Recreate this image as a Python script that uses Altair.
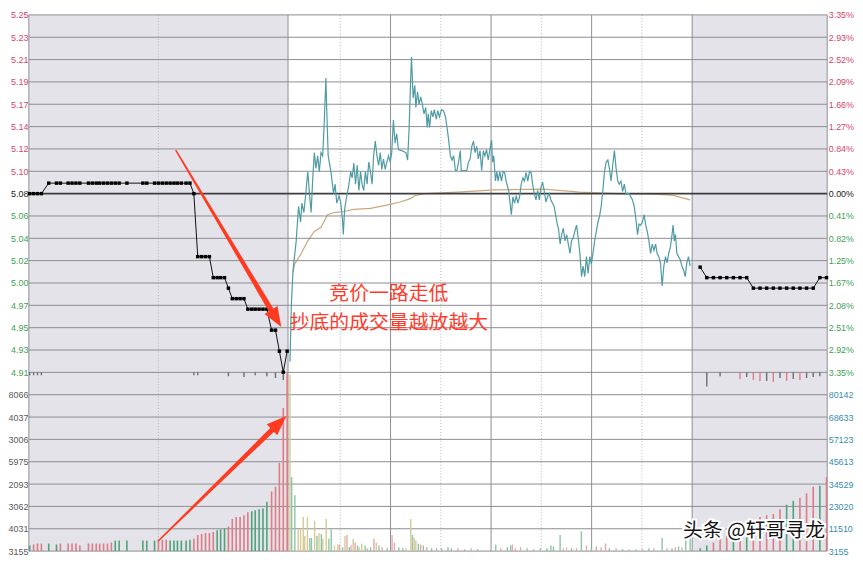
import json
import altair as alt
import pandas as pd

NUM_FONT = "Liberation Sans Narrow, Liberation Sans, Arial, sans-serif"
CJK_FONT = "Noto Sans CJK SC"

PREV_CLOSE = 5.08
MAX_PCT = 3.35
VOL_STEP = 11510

PRICE_UP_LABELS = ["5.10", "5.12", "5.14", "5.17", "5.19", "5.21", "5.23", "5.25"]
PRICE_DN_LABELS = ["5.06", "5.04", "5.02", "5.00", "4.97", "4.95", "4.93", "4.91"]
PCT_UP_LABELS = ["0.43%", "0.84%", "1.27%", "1.66%", "2.09%", "2.52%", "2.93%", "3.35%"]
PCT_DN_LABELS = ["0.41%", "0.82%", "1.25%", "1.67%", "2.08%", "2.51%", "2.92%", "3.35%"]
VOL_LEFT_LABELS = ["3155", "4031", "3062", "2093", "5975", "3006", "4037", "8066"]
VOL_RIGHT_LABELS = ["3155", "11510", "23020", "34529", "45613", "57123", "68633", "80142"]

# call auction 9:15-9:25 (seconds after 9:15)
AUCTION_SEC = [2, 11, 20, 29,
               46, 64, 73, 91, 100, 109, 118, 138, 147, 156, 164, 173, 182, 191, 200,
               209, 227, 264, 273, 291, 300, 309, 318, 327, 336, 344, 353, 364, 373,
               382, 391, 400, 409, 418, 427, 436, 444, 453, 462, 471, 480, 489, 498,
               507, 516, 524, 533, 542, 551, 562, 571, 580, 589, 598]
AUCTION_PRICE = [5.08, 5.08, 5.08, 5.08,
                 5.09, 5.09, 5.09, 5.09, 5.09, 5.09, 5.09, 5.09, 5.09, 5.09, 5.09, 5.09, 5.09, 5.09, 5.09,
                 5.09, 5.09, 5.09, 5.09, 5.09, 5.09, 5.09, 5.09, 5.09, 5.09, 5.09, 5.09, 5.09, 5.09,
                 5.08, 5.02, 5.02, 5.02, 5.02, 5.00, 5.00, 5.00, 5.00, 4.99, 4.98, 4.98, 4.98, 4.98,
                 4.97, 4.97, 4.97, 4.97, 4.97, 4.97, 4.95, 4.95, 4.93, 4.91, 4.93]
AUCTION_VOL = [2900, 3400, 3900, 3900,
               3900, 3400, 3900, 3900, 3900, 3900, 2900, 3900, 3900, 3900, 3900, 3900, 3900, 4400, 5400,
               5400, 5400, 5400, 5400, 5400, 5900, 5900, 5900, 5400, 5400, 5400, 5400, 5400, 5900,
               6300, 8300, 8800, 9300, 9300, 9800, 10700, 11200, 11700, 12700, 16600, 17600, 17600, 18500,
               20000, 20500, 21000, 21500, 22000, 25400, 30700, 33200, 45400, 73700, 91700]
AUCTION_DIR = ["d", "u", "u", "u",
               "d", "d", "u", "u", "u", "u", "u", "u", "u", "u", "u", "u", "u", "u", "d",
               "d", "d", "d", "d", "d", "u", "u", "u", "d", "d", "d", "d", "d", "d",
               "u", "u", "u", "u", "u", "u", "d", "d", "d", "u", "u", "u", "u", "u",
               "u", "d", "d", "d", "d", "d", "u", "u", "u", "u", "u"]
AUCTION_HANG_SEC = [2, 11, 20, 29, 382, 391, 462, 498, 524, 551, 571, 589]
AUCTION_HANG = [1500, 1500, 1500, 1500, 1500, 1500, 2000, 2400, 1500, 2000, 2900, 3900]

# continuous trading (minutes after 9:30)
TRADE_MIN = [0, 0.8, 1.8, 3.7, 5.1, 6.3, 7.1, 8.3, 9.6, 10.6,
             11.6, 12.6, 13.6, 14.5, 15.5, 16.5, 17.5, 18.5, 19.5, 20.4,
             21.4, 22.0, 22.8, 24.4, 26.0, 26.9, 27.9, 29.3, 30.3, 31.3,
             31.8, 32.6, 33.8, 35.2, 36.2, 37.1, 38.1, 39.1, 40.1, 41.1,
             42.1, 43.0, 44.0, 45.0, 46.0, 47.0, 48.0, 49.0, 49.9, 50.9,
             51.9, 52.9, 53.9, 54.8, 55.8, 56.8, 57.8, 58.8, 59.8, 60.7,
             61.7, 62.7, 63.7, 64.7, 66.6, 69.2, 70.2, 71.1, 71.9, 72.5,
             73.5, 74.5, 75.1, 76.1, 77.0, 78.0, 79.0, 80.0, 81.0, 81.9,
             82.5, 83.3, 84.3, 85.3, 86.1, 87.3, 88.2, 89.2, 90.4, 91.6,
             92.8, 93.7, 94.7, 95.7, 96.7, 97.7, 98.7, 99.6, 100.6, 101.6,
             102.2, 105.5, 106.5, 107.5, 108.5, 109.5, 110.4, 111.4, 112.4, 113.4,
             114.4, 115.4, 116.3, 117.3, 118.3, 119.3, 120.3, 120.9, 121.6, 122.6,
             123.4, 124.2, 125.2, 126.2, 127.2, 128.1, 129.1, 130.5, 131.1, 132.1,
             133.0, 134.0, 135.0, 136.0, 137.0, 138.0, 139.0, 139.9, 140.9, 141.9,
             142.9, 143.9, 144.8, 145.8, 146.8, 147.8, 148.8, 149.8, 150.7, 151.7,
             152.7, 153.7, 154.7, 155.7, 157.6, 158.6, 159.6,
             160.2, 161.2, 162.1, 163.1, 164.1, 165.1, 166.1, 167.1, 168.0, 169.0,
             170.0, 171.0, 172.0, 173.0, 174.0, 174.9, 175.9, 176.9, 177.9, 178.9,
             179.8, 180.8, 181.8, 182.8, 183.8, 184.8, 185.7, 186.7, 187.7, 188.7,
             189.7, 190.6, 191.6, 192.6, 193.6, 194.6, 195.6, 196.5, 197.5, 198.5,
             199.5, 200.5, 202.4, 203.4, 204.4, 205.4, 206.4, 207.4, 208.3, 209.3,
             210.3, 211.3, 212.3, 213.2, 214.2, 215.2, 216.2, 217.2, 218.2, 219.1,
             220.1, 221.1, 222.1, 223.1, 224.1, 225.0, 226.0, 227.0, 228.0, 228.6,
             229.4, 230.0, 230.9, 231.9, 232.9, 233.9, 234.9, 235.9, 236.8, 237.8,
             238.8]
TRADE_PRICE = [4.920, 4.974, 5.007, 5.035, 5.068, 5.053, 5.071, 5.062, 5.083, 5.101,
               5.080, 5.062, 5.095, 5.119, 5.104, 5.116, 5.101, 5.119, 5.116, 5.146,
               5.190, 5.156, 5.116, 5.101, 5.080, 5.089, 5.071, 5.078, 5.071, 5.056,
               5.041, 5.065, 5.077, 5.089, 5.101, 5.095, 5.109, 5.089, 5.107, 5.083,
               5.101, 5.089, 5.083, 5.101, 5.089, 5.110, 5.101, 5.089, 5.116, 5.130,
               5.116, 5.107, 5.119, 5.103, 5.113, 5.103, 5.110, 5.116, 5.110, 5.119,
               5.150, 5.128, 5.137, 5.122, 5.121, 5.119, 5.112, 5.143, 5.183, 5.210,
               5.171, 5.183, 5.162, 5.177, 5.165, 5.172, 5.165, 5.156, 5.162, 5.143,
               5.156, 5.143, 5.159, 5.153, 5.160, 5.151, 5.159, 5.153, 5.160, 5.159,
               5.153, 5.143, 5.131, 5.116, 5.112, 5.116, 5.102, 5.102, 5.110, 5.121,
               5.102, 5.102, 5.110, 5.113, 5.125, 5.130, 5.119, 5.125, 5.113, 5.121,
               5.102, 5.121, 5.116, 5.122, 5.112, 5.122, 5.131, 5.110, 5.116, 5.092,
               5.101, 5.092, 5.101, 5.092, 5.101, 5.100, 5.091, 5.083, 5.074, 5.060,
               5.077, 5.071, 5.078, 5.071, 5.077, 5.089, 5.095, 5.092, 5.100, 5.092,
               5.101, 5.100, 5.089, 5.080, 5.074, 5.083, 5.074, 5.086, 5.091, 5.083,
               5.072, 5.077, 5.080, 5.074, 5.068, 5.059, 5.050,
               5.047, 5.032, 5.041, 5.047, 5.035, 5.041, 5.032, 5.023, 5.035, 5.038,
               5.044, 5.050, 5.038, 5.023, 5.001, 5.011, 5.001, 5.020, 5.004, 5.020,
               5.013, 5.023, 5.035, 5.044, 5.053, 5.059, 5.068, 5.083, 5.101, 5.110,
               5.112, 5.104, 5.092, 5.107, 5.121, 5.104, 5.092, 5.089, 5.092, 5.082,
               5.089, 5.080, 5.080, 5.077, 5.074, 5.068, 5.056, 5.041, 5.051, 5.050,
               5.053, 5.060, 5.050, 5.044, 5.035, 5.023, 5.032, 5.026, 5.032, 5.023,
               5.020, 5.014, 4.992, 5.011, 5.020, 5.014, 5.023, 5.029, 5.041, 5.050,
               5.035, 5.041, 5.023, 5.020, 5.017, 5.011, 5.007, 5.001, 5.014, 5.020,
               5.011]
AVG_MIN = [1.8, 2.8, 6.7, 10.6, 14.5, 18.5, 22.4, 26.3, 32.2, 38.1, 48.0, 57.8,
           65.6, 71.5, 74.5, 80.2, 100.2, 122.0, 151.5, 172.8, 194.6, 216.4, 228.2, 238.8]
AVG_PRICE = [5.005, 5.013, 5.023, 5.035, 5.044, 5.048, 5.060, 5.062, 5.063, 5.065, 5.066, 5.069,
             5.072, 5.075, 5.078, 5.080, 5.0815, 5.0836, 5.0843, 5.0815, 5.0800, 5.0795, 5.0785, 5.074]

VOL_MIN = [0, 1, 2.9, 4.9, 6.3, 7.9, 8.8, 10.4, 11.8, 12.8,
           14.7, 16.1, 17.3, 18.7, 19.6, 21.6, 23.2, 24.6, 26.5, 28.5,
           29.5, 31.4, 32.8, 34.0, 35.4, 36.4, 37.7, 38.9, 40.3, 41.3,
           42.8, 44.8, 46.2, 48.1, 50.1, 51.5, 53.1, 55.0, 58.0, 60.9,
           62.3, 64.9, 67.2, 69.2, 72.1, 73.1, 74.1, 75.1, 76.6, 78.0,
           79.6, 81.6, 84.5, 87.5, 90.4, 94.3, 96.3, 100.2, 104.2, 108.1,
           112.0, 116.0, 119.9, 122.8, 125.8, 129.7, 131.7, 132.7, 134.6, 137.6,
           141.5, 145.4, 149.4, 153.3, 155.7, 157.2, 161.2, 163.1, 165.1, 168.0,
           171.0, 173.9, 176.9, 179.8, 182.8, 185.7, 188.3, 190.6, 194.6, 198.5,
           202.4, 206.4, 210.3, 214.2, 217.2, 222.1, 225.0, 228.0, 230.0, 231.9,
           233.9, 236.2, 238.8]
VOL_TRADE = [90800, 38100, 28800, 11200, 11200, 17600, 7800, 17600, 6800, 6800,
             15600, 7800, 9300, 8800, 6300, 16600, 6300, 11200, 2900, 3400,
             3400, 2000, 7800, 8300, 2000, 2900, 6300, 4400, 2900, 2000,
             3900, 2900, 1500, 2000, 6300, 4400, 2900, 2000, 1500, 8300,
             4400, 2000, 1500, 1500, 16600, 8300, 6800, 5400, 3900, 3400,
             2900, 2000, 1500, 1500, 1500, 2000, 1500, 1500, 1000, 1500,
             1000, 500, 500, 3400, 1500, 2000, 2900, 3400, 1500, 2000,
             1500, 1000, 1500, 1500, 2900, 2400, 8300, 1500, 2000, 1500,
             1500, 10200, 2900, 1500, 2400, 2000, 3900, 1500, 1500, 1000,
             1000, 1000, 1000, 1500, 1500, 6800, 1500, 1500, 2000, 2400,
             2000, 6300, 6300]
VOL_DIR = ["f", "d", "d", "f", "f", "f", "f", "f", "d", "d",
           "f", "d", "f", "d", "f", "f", "d", "d", "f", "f",
           "u", "d", "f", "u", "d", "u", "f", "u", "d", "f",
           "f", "d", "u", "d", "u", "f", "d", "u", "d", "u",
           "u", "d", "d", "f", "f", "d", "f", "f", "d", "u",
           "d", "u", "d", "u", "d", "d", "d", "u", "d", "u",
           "d", "u", "d", "d", "u", "d", "d", "u", "u", "u",
           "d", "u", "d", "d", "d", "d", "d", "u", "f", "d",
           "u", "d", "u", "d", "u", "u", "u", "d", "u", "d",
           "u", "d", "u", "d", "u", "d", "u", "d", "u", "d",
           "u", "d", "d"]

# after-close section (one point per snapshot)
AFTER_IDX = [0, 1, 2, 3, 4, 5, 6, 7, 8, 9, 10, 11, 12, 13, 14, 15, 16, 17, 18, 19]
AFTER_PRICE = [5.01, 5.00, 5.00, 5.00, 5.00, 5.00, 5.00, 5.00, 4.99, 4.99,
               4.99, 4.99, 4.99, 4.99, 4.99, 4.99, 4.99, 4.99, 5.00, 5.00]
AFTER_VOL = [1500, 2900, 4400, 6800, 7800, 8800, 11700, 13200, 16600, 17600,
             18500, 19000, 21500, 23900, 25900, 27300, 29800, 33200, 33700, 38100]
AFTER_DIR = ["d", "d", "u", "u", "u", "d", "u", "d", "u", "u",
             "u", "u", "u", "d", "d", "u", "u", "u", "d", "u"]
AFTER_HANG = [0, 7300, 0, 2000, 0, 0, 3400, 2400, 3900, 4400,
              4400, 4900, 2900, 4400, 3400, 3900, 2900, 2400, 2000, 0]
AFTER_HANG_DIR = ["g", "g", "g", "g", "g", "g", "u", "g", "u", "u",
                  "g", "u", "g", "u", "g", "u", "g", "g", "g", "g"]

NOTE_TEXT = ["竞价一路走低", "抄底的成交量越放越大"]
NOTE_MIN = [59, 59]
NOTE_PRICE = [4.984, 4.957]
WATERMARK = "头条 @轩哥寻龙"

# ---------------------------------------------------------------- layout
STEP = PREV_CLOSE * MAX_PCT / 100 / 8
LO, HI = PREV_CLOSE - 8 * STEP, PREV_CLOSE + 8 * STEP
W, H, HP = 804, 540, 360
VMAX = 8 * VOL_STEP

xs = alt.Scale(domain=[0, 600, 1000, 1240, 1998.8, 2019.1],
               range=[0, 261, 263, 668, 668, 804], zero=False, nice=False)
ps = alt.Scale(domain=[LO, HI], range=[HP, 0], zero=False, nice=False)
vs = alt.Scale(domain=[0, VMAX], range=[H, HP], zero=False, nice=False)


def X(f):
    return alt.X(f"{f}:Q", scale=xs, axis=None)


def YP(f):
    return alt.Y(f"{f}:Q", scale=ps, axis=None)


def YV(f):
    return alt.Y(f"{f}:Q", scale=vs, axis=None)


COLORS = {"u": "#e07a84", "d": "#4fa37c", "f": "#d8c57f", "g": "#6c6c74"}
TRADE_COLORS = {"u": "#e2aaa8", "d": "#8cc6a6", "f": "#d6c994"}

auction = pd.DataFrame({"pos": AUCTION_SEC, "price": AUCTION_PRICE, "vol": AUCTION_VOL,
                        "c": [COLORS[d] for d in AUCTION_DIR]})
auction["zero"] = 0
trade = pd.DataFrame({"pos": [1000 + m for m in TRADE_MIN], "price": TRADE_PRICE})
avg = pd.DataFrame({"pos": [1000 + m for m in AVG_MIN], "price": AVG_PRICE})
tvol = pd.DataFrame({"pos": [1000 + m for m in VOL_MIN], "vol": VOL_TRADE,
                     "c": [TRADE_COLORS[d] for d in VOL_DIR]})
tvol["zero"] = 0
after = pd.DataFrame({"pos": [2000 + k for k in AFTER_IDX], "price": AFTER_PRICE, "vol": AFTER_VOL,
                      "c": [COLORS[d] for d in AFTER_DIR]})
after["zero"] = 0
hang = pd.DataFrame({"pos": AUCTION_HANG_SEC + [2000 + k for k in AFTER_IDX],
                     "h": AUCTION_HANG + AFTER_HANG,
                     "c": [COLORS["g"]] * len(AUCTION_HANG) + [COLORS[d] for d in AFTER_HANG_DIR]})
hang = hang[hang["h"] > 0].copy()
hang["top"] = VMAX
hang["bot"] = VMAX - hang["h"]

layers = []

bg = pd.DataFrame({"x0": [0, 600, 1998.8], "x1": [600, 1240, 2019.1],
                   "fill": ["#e3e3e9", "#ffffff", "#e3e3e9"]})
layers.append(alt.Chart(bg).mark_rect().encode(
    x=X("x0"), x2="x1", y=alt.value(0), y2=alt.value(H), color=alt.Color("fill:N", scale=None)))

layers.append(alt.Chart(pd.DataFrame({"pos": [0, 600, 1060, 1120, 1180, 1240, 2019.1]}))
              .mark_rule(color="#8e8e95", strokeWidth=1)
              .encode(x=X("pos"), y=alt.value(0), y2=alt.value(H)))
layers.append(alt.Chart(pd.DataFrame({"pos": [300, 1030, 1090, 1150, 1210]}))
              .mark_rule(color="#b4b4bd", strokeWidth=1, strokeDash=[1, 2])
              .encode(x=X("pos"), y=alt.value(0), y2=alt.value(H)))

layers.append(alt.Chart(avg).mark_line(color="#c9a87c", strokeWidth=1.2).encode(x=X("pos"), y=YP("price")))


def grid(levels, scale, color, width, opacity, orient, expr, label_color):
    axis = alt.Axis(orient=orient, values=levels, labelExpr=expr, labelColor=label_color,
                    labelFont=NUM_FONT, labelFontSize=9, labelPadding=1, domain=False,
                    ticks=False, grid=False, title=None, labelOverlap=False)
    return (alt.Chart(pd.DataFrame({"lvl": levels}))
            .mark_rule(color=color, strokeWidth=width, opacity=opacity)
            .encode(x=alt.value(0), x2=alt.value(W), y=alt.Y("lvl:Q", scale=scale, axis=axis)))


up = [float(PREV_CLOSE + k * STEP) for k in range(1, 9)]
dn = [float(PREV_CLOSE - k * STEP) for k in range(1, 9)]
up_idx = f"[round((datum.value - {PREV_CLOSE}) / {STEP}) - 1]"
dn_idx = f"[round(({PREV_CLOSE} - datum.value) / {STEP}) - 1]"
RED, GREEN = "#d4466a", "#3f9f58"
GRID = "#8c8c92"
layers.append(grid(up, ps, GRID, 1, 1, "left", json.dumps(PRICE_UP_LABELS) + up_idx, RED))
layers.append(grid(up, ps, GRID, 1, 0, "right", json.dumps(PCT_UP_LABELS) + up_idx, RED))
layers.append(grid(dn, ps, GRID, 1, 1, "left", json.dumps(PRICE_DN_LABELS) + dn_idx, GREEN))
layers.append(grid(dn, ps, GRID, 1, 0, "right", json.dumps(PCT_DN_LABELS) + dn_idx, GREEN))

vlev = [float(k * VOL_STEP) for k in range(0, 8)]
v_idx = f"[round(datum.value / {VOL_STEP})]"
layers.append(grid(vlev, vs, GRID, 1, 1, "left", json.dumps(VOL_LEFT_LABELS) + v_idx, "#5e5858"))
layers.append(grid(vlev, vs, GRID, 1, 0, "right", json.dumps(VOL_RIGHT_LABELS) + v_idx, "#3b8db0"))

# bars
for df, w in ((auction, 1.6), (tvol, 1.4), (after, 1.6)):
    layers.append(alt.Chart(df).mark_rule(strokeWidth=w).encode(
        x=X("pos"), y=YV("vol"), y2="zero", color=alt.Color("c:N", scale=None)))
layers.append(alt.Chart(hang).mark_rule(strokeWidth=1.4).encode(
    x=X("pos"), y=YV("top"), y2="bot", color=alt.Color("c:N", scale=None)))

# centre line (previous close) drawn over avg line
layers.append(grid([float(PREV_CLOSE)], ps, "#3c3c40", 2, 1, "left", "'5.08'", "#222222"))
layers.append(grid([float(PREV_CLOSE)], ps, "#3c3c40", 2, 0, "right", "'0.00%'", "#222222"))

layers.append(alt.Chart(trade).mark_line(color="#4f9ba3", strokeWidth=1.2).encode(x=X("pos"), y=YP("price")))
for df in (auction, after):
    layers.append(alt.Chart(df).mark_line(color="#111111", strokeWidth=1).encode(x=X("pos"), y=YP("price")))
    layers.append(alt.Chart(df).mark_square(size=12, color="#000000", opacity=1).encode(x=X("pos"), y=YP("price")))

notes = pd.DataFrame({"pos": [1000 + m for m in NOTE_MIN], "price": NOTE_PRICE, "t": NOTE_TEXT})
layers.append(alt.Chart(notes).mark_text(font=CJK_FONT, fontSize=20, color="#ff3b2b",
                                         align="center", baseline="middle")
              .encode(x=X("pos"), y=YP("price"), text="t:N"))

ARROW = "#ff3a20"
HEAD = "M0,0L0.38,1L-0.38,1Z"
a1 = pd.DataFrame({"pos": [340.7, 568.4], "price": [5.121, 4.964], "w": [1.5, 5.5]})
a1_tip = pd.DataFrame({"pos": [584.4], "price": [4.953]})
a2 = pd.DataFrame({"pos": [300, 574], "vol": [5360, 64800], "w": [1.5, 5.5]})
a2_tip = pd.DataFrame({"pos": [596], "vol": [69600]})
layers.append(alt.Chart(a1).mark_trail(color=ARROW).encode(
    x=X("pos"), y=YP("price"), size=alt.Size("w:Q", scale=None)))
layers.append(alt.Chart(a1_tip).mark_point(shape=HEAD, filled=True, size=1600, angle=149,
                                           color=ARROW, opacity=1, strokeWidth=0)
              .encode(x=X("pos"), y=YP("price")))
layers.append(alt.Chart(a2).mark_trail(color=ARROW).encode(
    x=X("pos"), y=YV("vol"), size=alt.Size("w:Q", scale=None)))
layers.append(alt.Chart(a2_tip).mark_point(shape=HEAD, filled=True, size=1600, angle=46,
                                           color=ARROW, opacity=1, strokeWidth=0)
              .encode(x=X("pos"), y=YV("vol")))

wm = pd.DataFrame({"pos": [2008.1], "vol": [10200], "t": [WATERMARK]})
layers.append(alt.Chart(wm).mark_text(font=CJK_FONT, fontSize=20, color="#ffffff", stroke="#ffffff",
                                      strokeWidth=4, align="center", baseline="middle")
              .encode(x=X("pos"), y=YV("vol"), text="t:N"))
layers.append(alt.Chart(wm).mark_text(font=CJK_FONT, fontSize=20, color="#141414",
                                      align="center", baseline="middle")
              .encode(x=X("pos"), y=YV("vol"), text="t:N"))

chart = (alt.layer(*layers)
         .resolve_scale(y="independent")
         .properties(width=W, height=H, background="white",
                     autosize=alt.AutoSizeParams(type="none"),
                     padding={"left": 21, "right": 28, "top": 5, "bottom": 4})
         .configure_view(stroke=None))

chart.save("out.html", embed_options={"renderer": "svg", "actions": False})
